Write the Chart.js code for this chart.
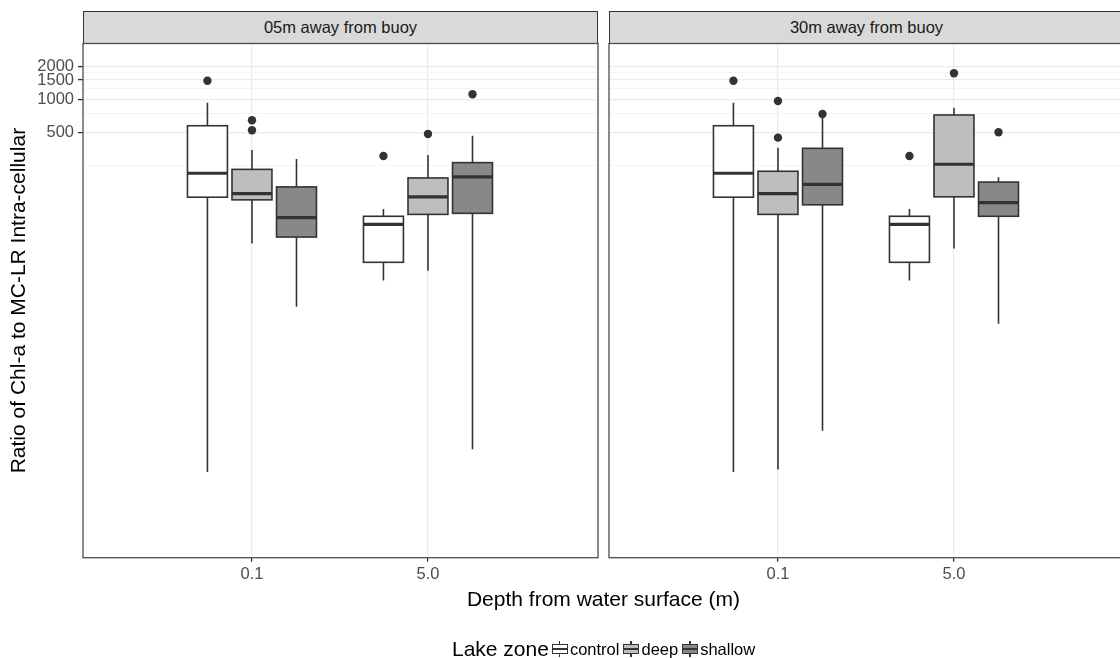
<!DOCTYPE html>
<html>
<head>
<meta charset="utf-8">
<script src="https://cdn.jsdelivr.net/npm/chart.js@4.4.1/dist/chart.umd.min.js"></script>
<style>
  html, body { margin: 0; padding: 0; background: #fff; overflow: hidden; width: 1120px; height: 658px; }
  body { position: relative; font-family: "Liberation Sans", Arial, sans-serif; }
  canvas { position: absolute; left: 0; top: 0; }
  .strip { position: absolute; top: 11px; height: 31px; width: 513px; background: #d9d9d9;
           border: 1px solid #333; line-height: 31px; text-align: center; font-size: 16.5px; color: #1a1a1a; }
  #xtitle { position: absolute; left: 0; width: 1207px; top: 587px; line-height: 24px; text-align: center;
            font-size: 21px; color: #000; }
  #legend { position: absolute; left: 452px; top: 639px; height: 20px; display: flex; align-items: center; }
  #legend .ttl { font-size: 21px; color: #000; margin-right: 2px; }
  #legend .lab { font-size: 16.5px; color: #000; margin-right: 3px; }
  .key { position: relative; width: 18px; height: 18px; margin-right: 1px; }
  .key .wh { position: absolute; left: 8px; width: 1.5px; top: 1px; bottom: 1px; background: #333; }
  .key .bx { position: absolute; left: 1px; right: 1px; top: 4px; bottom: 4px; border: 1.5px solid #333; box-sizing: border-box; }
  .key .md { position: absolute; left: 1px; right: 1px; top: 8px; height: 2px; background: #333; }
</style>
</head>
<body>
<div class="strip" id="strip0" style="left:83px"></div>
<div class="strip" id="strip1" style="left:609px"></div>
<canvas id="panel05" width="1120" height="658"></canvas>
<canvas id="panel30" width="1130" height="658"></canvas>
<div id="xtitle"></div>
<div id="legend"></div>
<script>
const facetTitles = ['05m away from buoy', '30m away from buoy'];
const depths = ['0.1', '5.0'];
const zones = ['control', 'deep', 'shallow'];
const yMajor = [500, 1000, 1500, 2000];
const yMinor = [250, 750, 1250, 1750];

// box stats per depth: [lower whisker, Q1, median, Q3, upper whisker]
const buoy05Control = [[0.41, 129, 213, 576, 933], [22.5, 33, 73, 86.5, 101]];
const buoy05Deep    = [[49, 122, 139, 231, 347], [27.7, 90, 130, 193, 312]];
const buoy05Shallow = [[13, 56, 84, 160, 287], [0.66, 92, 197, 266, 468]];
const buoy30Control = [[0.41, 129, 213, 576, 933], [22.5, 33, 73, 86.5, 101]];
const buoy30Deep    = [[0.43, 90, 139, 222, 364], [44, 130, 257, 721, 840]];
const buoy30Shallow = [[0.97, 110, 169, 359, 706], [9.1, 86.5, 115, 177, 196]];

// outliers per depth
const buoy05ControlOut = [[1479], [306]];
const buoy05DeepOut    = [[646, 524], [484]];
const buoy05ShallowOut = [[], [1112]];
const buoy30ControlOut = [[1479], [306]];
const buoy30DeepOut    = [[967, 449], [1727]];
const buoy30ShallowOut = [[737], [502]];

const zoneFill = ['#ffffff', '#bebebe', '#888888'];
const dodge = [-0.253, 0, 0.253];
const boxWidth = 0.227;
const ink = '#333333';
const font = '"Liberation Sans", Arial, sans-serif';

document.getElementById('strip0').textContent = facetTitles[0];
document.getElementById('strip1').textContent = facetTitles[1];
document.getElementById('xtitle').textContent = 'Depth from water surface (m)';

const legend = document.getElementById('legend');
legend.innerHTML = '<span class="ttl">Lake zone</span>' + zones.map((z, i) =>
  '<div class="key"><div class="wh"></div><div class="bx" style="background:' + zoneFill[i] +
  '"></div><div class="md"></div></div><span class="lab">' + z + '</span>').join('');

const boxPlugin = {
  id: 'boxes',
  beforeDatasetsDraw(chart, args, opts) {
    const { ctx, chartArea, scales: { x, y } } = chart;
    ctx.save();
    ctx.beginPath();
    ctx.rect(chartArea.left, chartArea.top, chartArea.right - chartArea.left, chartArea.bottom - chartArea.top);
    ctx.clip();
    const half = (x.getPixelForValue(boxWidth) - x.getPixelForValue(0)) / 2;
    opts.groups.forEach((group, z) => {
      group.forEach((s, d) => {
        const cx = x.getPixelForValue(d + dodge[z]);
        const [lo, q1, med, q3, hi] = s.map(v => y.getPixelForValue(v));
        ctx.strokeStyle = ink;
        ctx.lineWidth = 1.6;
        ctx.beginPath();
        ctx.moveTo(cx, lo); ctx.lineTo(cx, q1);
        ctx.moveTo(cx, q3); ctx.lineTo(cx, hi);
        ctx.stroke();
        ctx.fillStyle = zoneFill[z];
        ctx.fillRect(cx - half, q3, half * 2, q1 - q3);
        ctx.strokeRect(cx - half, q3, half * 2, q1 - q3);
        ctx.lineWidth = 3.2;
        ctx.beginPath();
        ctx.moveTo(cx - half, med); ctx.lineTo(cx + half, med);
        ctx.stroke();
      });
    });
    ctx.restore();
  },
  afterDraw(chart) {
    const { ctx, chartArea } = chart;
    ctx.save();
    ctx.strokeStyle = '#4d4d4d';
    ctx.lineWidth = 1.3;
    ctx.strokeRect(chartArea.left, chartArea.top, chartArea.right - chartArea.left, chartArea.bottom - chartArea.top);
    ctx.restore();
  }
};

function outlierPoints(outs) {
  const pts = [];
  outs.forEach((perDepth, z) => perDepth.forEach((vals, d) =>
    vals.forEach(v => pts.push({ x: d + dodge[z], y: v }))));
  return pts;
}

function makePanel(id, groups, outs, withAxis, padding) {
  const isMajor = v => yMajor.includes(v);
  new Chart(document.getElementById(id), {
    type: 'scatter',
    data: {
      datasets: [{
        data: outlierPoints(outs),
        pointRadius: 4.2,
        pointHoverRadius: 4.2,
        backgroundColor: ink,
        borderWidth: 0
      }]
    },
    plugins: [boxPlugin],
    options: {
      responsive: false,
      animation: false,
      events: [],
      layout: { padding: padding },
      plugins: {
        legend: { display: false },
        tooltip: { enabled: false },
        boxes: { groups: groups }
      },
      scales: {
        x: {
          type: 'linear',
          min: -0.96,
          max: 1.966,
          afterBuildTicks: s => { s.ticks = depths.map((_, i) => ({ value: i })); },
          afterFit: s => { s.height = 40; },
          border: { display: false },
          grid: { color: '#ebebeb', lineWidth: 1.2, tickColor: ink, tickLength: 4, tickWidth: 1.3 },
          ticks: {
            autoSkip: false, maxRotation: 0, padding: 3,
            color: '#4d4d4d', font: { family: font, size: 16.5 },
            callback: (v, i) => depths[i]
          }
        },
        y: {
          type: 'logarithmic',
          min: 0.068,
          max: 3222,
          afterBuildTicks: s => { s.ticks = yMinor.concat(yMajor).sort((a, b) => a - b).map(v => ({ value: v })); },
          afterFit: s => { s.width = withAxis ? 83 : 0; },
          border: { display: false },
          grid: {
            color: c => isMajor(c.tick.value) ? '#ebebeb' : '#f3f3f3',
            lineWidth: c => isMajor(c.tick.value) ? 1.2 : 0.9,
            tickColor: c => (withAxis && isMajor(c.tick.value)) ? ink : 'rgba(0,0,0,0)',
            tickLength: withAxis ? 5 : 0,
            tickWidth: 1.3,
            drawTicks: withAxis
          },
          ticks: {
            display: withAxis,
            autoSkip: false, padding: 4,
            color: '#4d4d4d', font: { family: font, size: 16.5 },
            callback: v => isMajor(v) ? String(v) : ''
          },
          title: {
            display: withAxis,
            text: 'Ratio of Chl-a to MC-LR Intra-cellular',
            color: '#000',
            font: { family: font, size: 21 },
            padding: { top: 7, bottom: 0 }
          }
        }
      }
    }
  });
}

makePanel('panel05', [buoy05Control, buoy05Deep, buoy05Shallow],
  [buoy05ControlOut, buoy05DeepOut, buoy05ShallowOut], true,
  { left: 0, right: 522, top: 43.5, bottom: 60.3 });
makePanel('panel30', [buoy30Control, buoy30Deep, buoy30Shallow],
  [buoy30ControlOut, buoy30DeepOut, buoy30ShallowOut], false,
  { left: 609, right: 6, top: 43.5, bottom: 60.3 });
</script>
</body>
</html>
